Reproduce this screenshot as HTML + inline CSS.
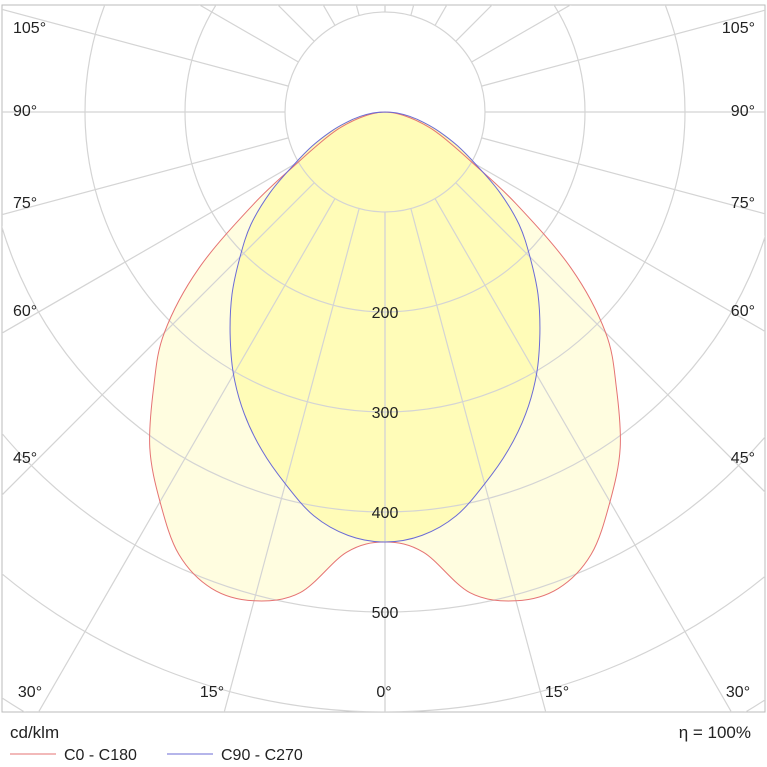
<!DOCTYPE html>
<html><head><meta charset="utf-8"><style>
html,body{margin:0;padding:0;background:#fff;overflow:hidden;width:767px;height:767px;}
svg{display:block;font-family:"Liberation Sans",Arial,sans-serif;}
</style></head><body>
<svg id="chart" width="767" height="767" viewBox="0 0 767 767">
<defs><clipPath id="clip"><rect x="2" y="5" width="763" height="707"/></clipPath></defs>
<rect x="2" y="5" width="763" height="707" fill="#fff" stroke="#bbb"/>
<g id="fills" clip-path="url(#clip)"></g>
<g id="grid" clip-path="url(#clip)"></g>
<g id="curves" clip-path="url(#clip)"></g>
<g id="labels" font-size="16" fill="#222"></g>
<text x="10" y="738" font-size="17" fill="#222">cd/klm</text>
<text x="751" y="738" font-size="17" fill="#222" text-anchor="end">η = 100%</text>
<line x1="10" y1="754" x2="56" y2="754" stroke="#e57373"/>
<text x="64" y="760" font-size="16" fill="#222">C0 - C180</text>
<line x1="167" y1="754" x2="213" y2="754" stroke="#6b6bd6"/>
<text x="221" y="760" font-size="16" fill="#222">C90 - C270</text>
</svg>
<script>
const angles=[0,5,10,15,20,25,30,35,40,45,50,55,60,65,70,75,80,85,90];
const c0Values=[430,442,488,506,507,488,450,410,360,312,243,160,100,70,50,32,18,8,0];
const c90Values=[430,425,410,385,360,333,303,270,238,205,175,140,105,80,58,40,25,12,0];
const ringValues=[100,200,300,400,500,600,700,800];
const ringLabels=["200","300","400","500"];
const spokeAngles=[0,15,30,45,60,75,90,105,120,135,150,165,180];
const NS="http://www.w3.org/2000/svg";
const cx=385, cy=112, scale=1.0;
function rad(v){return v*scale;}
function pt(a,v,side){const t=a*Math.PI/180;return [cx+side*rad(v)*Math.sin(t), cy+rad(v)*Math.cos(t)];}
function pathFor(vals){
  const p=[];
  for(let i=angles.length-1;i>=0;i--)p.push(pt(angles[i],vals[i],-1));
  for(let i=1;i<angles.length;i++)p.push(pt(angles[i],vals[i],1));
  let d="M"+p[0][0].toFixed(1)+","+p[0][1].toFixed(1);
  for(let i=0;i<p.length-1;i++){
    const p0=p[Math.max(i-1,0)],p1=p[i],p2=p[i+1],p3=p[Math.min(i+2,p.length-1)];
    const c1=[p1[0]+(p2[0]-p0[0])/6,p1[1]+(p2[1]-p0[1])/6];
    const c2=[p2[0]-(p3[0]-p1[0])/6,p2[1]-(p3[1]-p1[1])/6];
    d+="C"+c1[0].toFixed(1)+","+c1[1].toFixed(1)+" "+c2[0].toFixed(1)+","+c2[1].toFixed(1)+" "+p2[0].toFixed(1)+","+p2[1].toFixed(1);
  }
  return d+"Z";
}
function mk(tag,attrs,parent){const e=document.createElementNS(NS,tag);for(const k in attrs)e.setAttribute(k,attrs[k]);document.getElementById(parent).appendChild(e);return e;}
let e;
e=mk("path",{d:pathFor(c0Values),fill:"#fffde0"},"fills");


e=mk("path",{d:pathFor(c90Values),fill:"#fffcb8"},"fills");


ringValues.forEach(v=>{
  const c=mk("circle",{cx:cx,cy:cy,r:rad(v),fill:"none",stroke:"#d4d4d4","stroke-width":"1.2"},"grid");
  
  
});
spokeAngles.forEach(a=>{
  [-1,1].forEach(s=>{
    const p1=pt(a,100,s),p2=pt(a,1200,s);
    const l=mk("line",{x1:p1[0],y1:p1[1],x2:p2[0],y2:p2[1],stroke:"#d4d4d4","stroke-width":"1.2"},"grid");
    
    
  });
});
e=mk("path",{d:pathFor(c0Values),fill:"none",stroke:"#e57373","stroke-width":"1"},"curves");


e=mk("path",{d:pathFor(c90Values),fill:"none",stroke:"#6b6bd6","stroke-width":"1"},"curves");


ringLabels.forEach((t,i)=>{
  const v=200+i*100;
  const tx=mk("text",{x:cx,y:cy+rad(v)+6,"text-anchor":"middle","font-size":"16"},"labels");
  tx.textContent=t;
  
  
});
const sideLabels=[["105°",33],["90°",116],["75°",208],["60°",316],["45°",463]];
sideLabels.forEach(d=>{
  let t=mk("text",{x:13,y:d[1]},"labels");t.textContent=d[0];
  
  
  t=mk("text",{x:755,y:d[1],"text-anchor":"end"},"labels");t.textContent=d[0];
  
  
});
const bottomLabels=[["30°",30],["15°",212],["0°",384],["15°",557],["30°",738]];
bottomLabels.forEach(d=>{
  const t=mk("text",{x:d[1],y:697,"text-anchor":"middle"},"labels");t.textContent=d[0];
  
  
});
</script>
</body></html>
